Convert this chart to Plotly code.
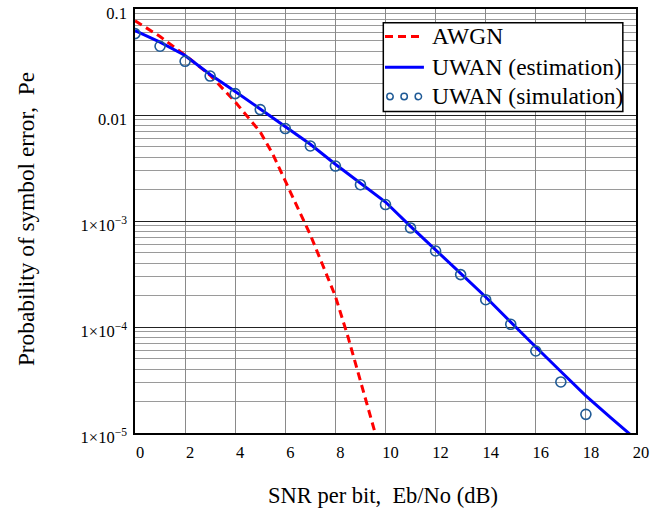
import plotly.graph_objects as go

# SNR per bit (dB) grid
snr_awgn = [0, 1, 2, 3, 4, 5, 5.5, 6, 6.5, 7, 7.5, 8, 8.5, 9, 9.5, 10]
pe_awgn = [0.0776, 0.055, 0.0367, 0.0237, 0.0133, 0.00692, 0.00427, 0.0024,
           0.00132, 0.00074, 0.00038, 0.000195, 8.1e-5, 3.2e-5, 1.23e-5, 4.5e-6]

snr_est = list(range(0, 21))
pe_est = [0.0626, 0.0487, 0.0364, 0.0241, 0.0167, 0.0114, 0.0078, 0.0053,
          0.00343, 0.00228, 0.00151, 0.00089, 0.000528, 0.00032, 0.000192,
          0.000111, 6.47e-5, 3.8e-5, 2.24e-5, 1.39e-5, 8.7e-6]

snr_sim = list(range(0, 19))
pe_sim = [0.0586, 0.0445, 0.0321, 0.0233, 0.0159, 0.01125, 0.00745, 0.0051,
          0.0033, 0.0022, 0.00143, 0.00086, 0.000521, 0.000312, 0.000181,
          0.000106, 5.94e-5, 3.03e-5, 1.5e-5]

x_ticks = list(range(0, 21, 2))
y_ticks = [0.1, 0.01, 1e-3, 1e-4, 1e-5]
y_tick_text = ["0.1", "0.01", "1×10<sup>−3</sup>", "1×10<sup>−4</sup>", "1×10<sup>−5</sup>"]
y_minor = [m * 10.0 ** e for e in range(-5, -1) for m in range(2, 10)]

series_names = ["AWGN", "UWAN (estimation)", "UWAN (simulation)"]

FONT = "Liberation Serif"
RED, BLUE, MARK = "#ff0000", "#0000ff", "#1f5a96"
DASH = "8px,5px"

W, H = 664, 509
L, R, T, B = 134.5, 27.5, 8.5, 76.3
pw, ph = W - L - R, H - T - B


def px(xpix):
    return (xpix - L) / pw


def py(ypix):
    return 1 - (ypix - T) / ph


fig = go.Figure()
fig.add_trace(go.Scatter(
    x=snr_awgn, y=pe_awgn, mode="lines", name=series_names[0],
    line=dict(color=RED, width=3, dash=DASH),
))
fig.add_trace(go.Scatter(
    x=snr_est, y=pe_est, mode="lines", name=series_names[1],
    line=dict(color=BLUE, width=3),
))
fig.add_trace(go.Scatter(
    x=snr_sim, y=pe_sim, mode="markers", name=series_names[2],
    marker=dict(symbol="circle-open", size=10, color=MARK,
                line=dict(width=1.6, color=MARK)),
))

# boxed key in the upper right corner
shapes = [
    dict(type="rect", xref="paper", yref="paper", layer="above",
         x0=px(383.3), x1=px(623.3), y0=py(111), y1=py(22.3),
         fillcolor="white", line=dict(color="black", width=1.5)),
    dict(type="line", xref="paper", yref="paper", layer="above",
         x0=px(385), x1=px(424), y0=py(36), y1=py(36),
         line=dict(color=RED, width=3, dash=DASH)),
    dict(type="line", xref="paper", yref="paper", layer="above",
         x0=px(385), x1=px(424), y0=py(66.7), y1=py(66.7),
         line=dict(color=BLUE, width=3)),
]
for cx in (390, 404.2, 418.4):
    shapes.append(dict(type="circle", xref="paper", yref="paper", layer="above",
                       x0=px(cx - 3.2), x1=px(cx + 3.2),
                       y0=py(96 + 3.2), y1=py(96 - 3.2),
                       line=dict(color=MARK, width=1.5)))

annotations = [
    dict(text=name, x=px(430), y=py(yc), xref="paper", yref="paper",
         xanchor="left", yanchor="middle", showarrow=False,
         font=dict(family=FONT, size=23.5, color="black"))
    for name, yc in zip(series_names, (36, 66.7, 96))
]
annotations += [
    dict(text="SNR per bit,\u00a0 Eb/No (dB)", x=px(383), y=py(495),
         xref="paper", yref="paper", xanchor="center", yanchor="middle",
         showarrow=False, font=dict(family=FONT, size=22.5, color="black")),
    dict(text="Probability of symbol error,\u00a0 Pe", x=px(26), y=py(219),
         xref="paper", yref="paper", xanchor="center", yanchor="middle",
         showarrow=False, textangle=-90,
         font=dict(family=FONT, size=23.3, color="black")),
]

fig.update_layout(
    width=W, height=H,
    margin=dict(l=L, r=R, t=T, b=B, autoexpand=False),
    paper_bgcolor="white", plot_bgcolor="white",
    font=dict(family=FONT, size=16.5, color="black"),
    showlegend=False,
    shapes=shapes,
    annotations=annotations,
    xaxis=dict(
        range=[0, 20], tickvals=x_ticks, ticks="", automargin=False,
        showgrid=True, gridcolor="#8a8a8a", gridwidth=1,
        showline=True, linecolor="black", linewidth=1.5, mirror=True,
        zeroline=False, ticklabelshift=5, ticklabelstandoff=3,
        tickfont=dict(family=FONT, size=16.5),
    ),
    yaxis=dict(
        type="log", range=[-5, -1], tickvals=y_ticks, ticktext=y_tick_text,
        ticks="", automargin=False,
        showgrid=True, gridcolor="#222222", gridwidth=1,
        showline=True, linecolor="black", linewidth=1.5, mirror=True,
        zeroline=False, ticklabelshift=4, ticklabelstandoff=3,
        tickfont=dict(family=FONT, size=16.5),
        minor=dict(tickmode="array", tickvals=y_minor, showgrid=True,
                   gridcolor="#9a9a9a", gridwidth=1, ticks=""),
    ),
)

fig.write_html("out.html")
